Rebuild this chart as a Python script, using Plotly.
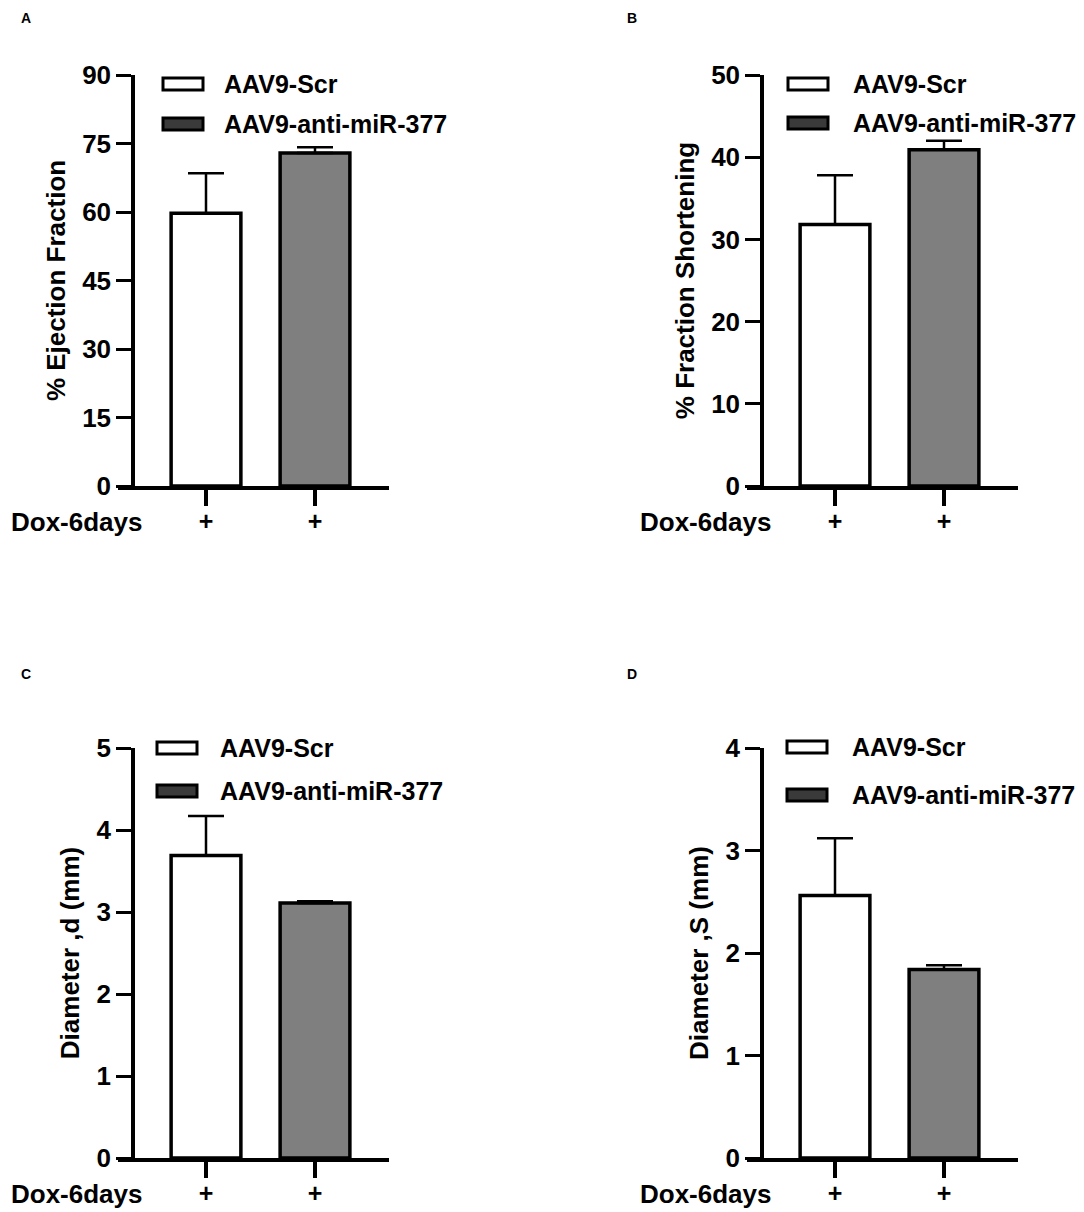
import plotly.graph_objects as go

W, H = 1084, 1212
FONT = "Arial, Liberation Sans, sans-serif"
INK = "black"

groups = ["AAV9-Scr", "AAV9-anti-miR-377"]
tick_text = ["+", "+"]
row_label = "Dox-6days"

panel_letters = ["A", "B", "C", "D"]
y_titles = ["% Ejection Fraction", "% Fraction Shortening", "Diameter ,d (mm)", "Diameter ,S (mm)"]
y_max = [90, 50, 5, 4]
y_step = [15, 10, 1, 1]

ef_mean = [59.7, 72.9]
ef_err = [8.8, 1.3]
fs_mean = [31.8, 40.9]
fs_err = [6.0, 1.1]
dd_mean = [3.69, 3.11]
dd_err = [0.48, 0.02]
ds_mean = [2.56, 1.84]
ds_err = [0.56, 0.04]

means = [ef_mean, fs_mean, dd_mean, ds_mean]
errs = [ef_err, fs_err, dd_err, ds_err]

# pixel layout of each panel: y-axis x position, top and bottom of plot
yaxis_px = [133, 762, 133, 762]
top_px = [75, 75, 748, 748]
bot_px = [486, 486, 1158, 1158]
letter_px = [(26, 18), (632, 18), (26, 674), (632, 674)]
leg_px = [(163, 84, 40, 222), (788, 84, 39, 851), (157, 748, 43, 218), (787, 747, 48, 850)]

def fx(x): return x / W
def fy(y): return 1 - y / H

tfont = dict(size=26, color=INK, family=FONT, weight=700)
lfont = dict(size=25, color=INK, family=FONT, weight=700)
fig = go.Figure()
shapes, annos = [], []
lay = {}
for i in range(4):
    n = "" if i == 0 else str(i + 1)
    xa, ya = "x" + n, "y" + n
    c0 = yaxis_px[i] + 73
    unit = 109
    left, right = yaxis_px[i] - 15, yaxis_px[i] + 256
    for j, g in enumerate(groups):
        fig.add_trace(go.Bar(
            x=[j], y=[means[i][j]], width=0.64, xaxis=xa, yaxis=ya, name=g, showlegend=False,
            marker=dict(color="white", line=dict(color=INK, width=3.5),
                        pattern=dict(shape="" if j == 0 else ".", fgcolor=INK, bgcolor="white",
                                     size=5, solidity=0.95)),
            error_y=dict(type="data", symmetric=False, array=[errs[i][j]], arrayminus=[0],
                         color=INK, thickness=2.5, width=18)))
    lay["xaxis" + n] = dict(domain=[fx(left), fx(right)], anchor=ya, automargin=False,
                            range=[(left - c0) / unit, (right - c0) / unit],
                            tickvals=[0, 1], ticktext=tick_text, ticks="outside", ticklen=16,
                            tickwidth=3.5, tickcolor=INK, showline=True, linewidth=3.5, linecolor=INK,
                            showgrid=False, zeroline=False, ticklabelstandoff=-6,
                            tickfont=dict(size=25, color=INK, family=FONT, weight=700))
    lay["yaxis" + n] = dict(domain=[fy(bot_px[i]), fy(top_px[i])], anchor="free", automargin=False,
                            position=fx(yaxis_px[i]), range=[0, y_max[i]], dtick=y_step[i],
                            ticks="outside", ticklen=15, tickwidth=3, tickcolor=INK,
                            showline=True, linewidth=3.5, linecolor=INK, showgrid=False, zeroline=False,
                            tickfont=tfont, title=dict(text=y_titles[i], standoff=8, font=tfont))
    # x row label
    annos.append(dict(text=row_label, x=fx(yaxis_px[i] + 12), y=fy(bot_px[i] + 36), xref="paper", yref="paper",
                      xanchor="right", yanchor="middle", showarrow=False, font=tfont))
    # panel letter
    lx, ly = letter_px[i]
    annos.append(dict(text=panel_letters[i], x=fx(lx), y=fy(ly), xref="paper", yref="paper",
                      xanchor="center", yanchor="middle", showarrow=False,
                      font=dict(size=14, color=INK, family=FONT, weight=700)))
    # legend
    sx, sy, dy, tx = leg_px[i]
    for j, g in enumerate(groups):
        cy = sy + j * dy
        shapes.append(dict(type="rect", xref="paper", yref="paper", x0=fx(sx), x1=fx(sx + 40),
                           y0=fy(cy - 6), y1=fy(cy + 6), line=dict(color=INK, width=3),
                           fillcolor="white" if j == 0 else "#3a3a3a"))
        annos.append(dict(text=g, x=fx(tx), y=fy(cy), xref="paper", yref="paper", xanchor="left",
                          yanchor="middle", showarrow=False, font=lfont))

fig.update_layout(width=W, height=H, margin=dict(l=0, r=0, t=0, b=0, pad=0), paper_bgcolor="white",
                  plot_bgcolor="white", showlegend=False, shapes=shapes, annotations=annos,
                  font=dict(family=FONT, color=INK), **lay)
fig.write_html("out.html", config={"displayModeBar": False},
               post_script="document.body.style.margin='0px';")
